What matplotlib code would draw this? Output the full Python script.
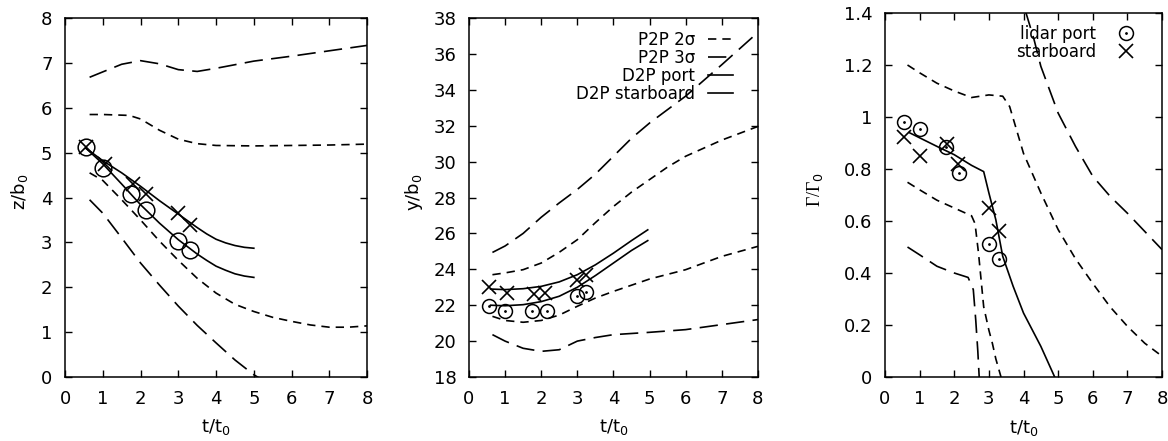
import matplotlib
matplotlib.use("Agg")
import matplotlib.pyplot as plt

plt.rcParams["font.family"] = ["DejaVu Sans"]
plt.rcParams["font.size"] = 13

# ---- panel 1: z/b0 ----
z_t_p3_hi = [0.65, 1.0, 1.5, 2.0, 2.5, 3.0, 3.5, 4.0, 5.0, 6.0, 7.0, 8.0]
z_p3_hi = [6.68, 6.8, 6.97, 7.05, 6.98, 6.85, 6.81, 6.88, 7.04, 7.15, 7.27, 7.39]
z_t_p2_hi = [0.65, 1.0, 1.7, 2.0, 2.5, 3.0, 3.5, 4.0, 5.0, 6.0, 7.0, 8.0]
z_p2_hi = [5.85, 5.85, 5.83, 5.75, 5.5, 5.3, 5.2, 5.16, 5.15, 5.16, 5.17, 5.19]
z_t_p2_lo = [0.65, 1.0, 1.5, 2.0, 2.5, 3.0, 3.5, 4.0, 4.5, 5.0, 5.5, 6.0, 6.5, 7.0, 7.5, 8.0]
z_p2_lo = [4.55, 4.38, 3.95, 3.5, 3.03, 2.6, 2.2, 1.87, 1.62, 1.46, 1.33, 1.24, 1.16, 1.11, 1.11, 1.14]
z_t_p3_lo = [0.65, 1.0, 1.5, 2.0, 2.5, 3.0, 3.5, 4.0, 4.5, 5.0, 5.3]
z_p3_lo = [3.95, 3.65, 3.1, 2.54, 2.05, 1.58, 1.15, 0.76, 0.38, 0.05, -0.1]
z_t_d2p = [0.55, 1.0, 1.5, 2.0, 2.5, 3.0, 3.5, 3.75, 4.0, 4.25, 4.5, 4.75, 5.0]
z_d2p_port = [5.1, 4.75, 4.3, 3.84, 3.43, 3.06, 2.74, 2.6, 2.47, 2.38, 2.3, 2.25, 2.22]
z_d2p_star = [5.1, 4.82, 4.55, 4.25, 3.93, 3.63, 3.33, 3.19, 3.07, 2.99, 2.93, 2.89, 2.87]
z_t_port = [0.55, 1.0, 1.75, 2.15, 3.0, 3.3]
z_port = [5.12, 4.65, 4.07, 3.72, 3.04, 2.82]
z_t_star = [0.55, 1.05, 1.8, 2.15, 3.0, 3.3]
z_star = [5.12, 4.75, 4.3, 4.07, 3.65, 3.38]

# ---- panel 2: y/b0 ----
y_t_p3_hi = [0.65, 1.0, 1.5, 2.0, 2.5, 3.0, 3.5, 4.0, 4.5, 5.0, 5.5, 6.0, 7.0, 8.0]
y_p3_hi = [24.94, 25.3, 26.0, 26.9, 27.7, 28.45, 29.3, 30.3, 31.3, 32.15, 32.9, 33.65, 35.4, 37.2]
y_t_p2_hi = [0.65, 1.0, 1.5, 2.0, 2.5, 3.0, 3.5, 4.0, 4.5, 5.0, 5.5, 6.0, 7.0, 8.0]
y_p2_hi = [23.7, 23.8, 23.98, 24.35, 24.95, 25.65, 26.6, 27.5, 28.3, 29.0, 29.7, 30.3, 31.2, 31.96]
y_t_p2_lo = [0.65, 1.0, 1.5, 2.0, 2.5, 3.0, 3.5, 4.0, 5.0, 6.0, 7.0, 8.0]
y_p2_lo = [21.38, 21.15, 21.05, 21.15, 21.45, 21.94, 22.4, 22.77, 23.46, 23.98, 24.72, 25.28]
y_t_p3_lo = [0.65, 1.0, 1.5, 2.0, 2.5, 3.0, 3.5, 4.0, 5.0, 6.0, 7.0, 8.0]
y_p3_lo = [20.36, 20.0, 19.6, 19.43, 19.52, 20.0, 20.2, 20.36, 20.49, 20.64, 20.92, 21.2]
y_t_d2p = [0.6, 1.0, 1.5, 2.0, 2.5, 3.0, 3.5, 4.0, 4.5, 4.95]
y_d2p_port = [22.0, 21.97, 22.03, 22.2, 22.5, 23.0, 23.65, 24.35, 25.05, 25.6]
y_d2p_star = [22.9, 22.87, 22.92, 23.05, 23.3, 23.7, 24.25, 24.9, 25.6, 26.2]
y_t_port = [0.55, 1.0, 1.75, 2.15, 3.0, 3.25]
y_port = [21.95, 21.65, 21.65, 21.7, 22.5, 22.75]
y_t_star = [0.55, 1.05, 1.8, 2.1, 3.0, 3.25]
y_star = [23.0, 22.7, 22.6, 22.7, 23.4, 23.7]

# ---- panel 3: Gamma/Gamma0 ----
g_t_p3_hi = [4.05, 4.3, 4.5, 5.0, 5.5, 6.0, 6.5, 7.0, 7.5, 8.0]
g_p3_hi = [1.41, 1.3, 1.195, 1.015, 0.887, 0.772, 0.695, 0.63, 0.56, 0.49]
g_t_p2_hi = [0.65, 1.0, 1.5, 2.0, 2.5, 3.0, 3.4, 3.6, 3.8, 4.0, 4.5, 5.0, 5.5, 6.0, 6.5, 7.0, 7.5, 8.0]
g_p2_hi = [1.2, 1.17, 1.13, 1.1, 1.075, 1.085, 1.08, 1.04, 0.95, 0.86, 0.708, 0.567, 0.455, 0.36, 0.27, 0.195, 0.13, 0.08]
g_t_p2_lo = [0.65, 1.0, 1.5, 2.0, 2.5, 2.6, 2.7, 2.85, 3.0, 3.1, 3.2, 3.35]
g_p2_lo = [0.749, 0.72, 0.68, 0.65, 0.62, 0.59, 0.477, 0.27, 0.18, 0.13, 0.07, 0.0]
g_t_p3_lo = [0.65, 1.0, 1.5, 2.0, 2.4, 2.55, 2.62, 2.68, 2.72]
g_p3_lo = [0.5, 0.47, 0.426, 0.4, 0.383, 0.336, 0.22, 0.1, 0.0]
g_t_d2p = [0.7, 1.0, 1.5, 2.0, 2.5, 2.85, 3.0, 3.2, 3.4, 3.7, 4.0, 4.5, 4.9]
g_d2p = [0.94, 0.92, 0.887, 0.855, 0.814, 0.79, 0.708, 0.605, 0.464, 0.349, 0.246, 0.118, 0.0]
g_t_port = [0.55, 1.0, 1.75, 2.15, 3.0, 3.3]
g_port = [0.98, 0.955, 0.885, 0.785, 0.51, 0.455]
g_t_star = [0.55, 1.0, 1.8, 2.1, 3.0, 3.3]
g_star = [0.925, 0.85, 0.895, 0.82, 0.65, 0.56]

short_dash = (0, (5, 3.6))
long_dash = (0, (11, 5))
lw = 1.2

fig = plt.figure(figsize=(11.68, 4.41), dpi=100)
ax1 = fig.add_axes([0.0557, 0.1451, 0.2586, 0.814])
ax2 = fig.add_axes([0.4015, 0.1451, 0.2474, 0.814])
ax3 = fig.add_axes([0.7577, 0.1451, 0.2372, 0.8254])


def style(ax, ylab, ylab_x, yfamily=None):
    ax.set_xlim(0, 8)
    ax.set_xticks(range(0, 9))
    ax.tick_params(direction="in", top=True, right=True, length=5, width=1, labelsize=13)
    ax.tick_params(axis="x", pad=9)
    ax.tick_params(axis="y", pad=9)
    for s in ax.spines.values():
        s.set_linewidth(1.1)
    ax.set_xlabel("t/t$_0$", fontsize=13)
    ax.xaxis.set_label_coords(0.5, -0.112)
    if yfamily:
        ax.set_ylabel(ylab, fontsize=13, family=yfamily)
    else:
        ax.set_ylabel(ylab, fontsize=13)
    ax.yaxis.set_label_coords(ylab_x, 0.515)


def dotted_circles(ax, t, v, ms):
    h1, = ax.plot(t, v, "o", mfc="none", mec="black", ms=ms, mew=1.1, linestyle="none")
    h2, = ax.plot(t, v, ".", color="black", ms=2, linestyle="none")
    return (h1, h2)


# panel 1
ax1.plot(z_t_p3_hi, z_p3_hi, color="black", lw=lw, ls=long_dash)
ax1.plot(z_t_p3_lo, z_p3_lo, color="black", lw=lw, ls=long_dash)
ax1.plot(z_t_p2_hi, z_p2_hi, color="black", lw=lw, ls=short_dash)
ax1.plot(z_t_p2_lo, z_p2_lo, color="black", lw=lw, ls=short_dash)
ax1.plot(z_t_d2p, z_d2p_port, color="black", lw=lw)
ax1.plot(z_t_d2p, z_d2p_star, color="black", lw=lw)
ax1.plot(z_t_port, z_port, "o", mfc="none", mec="black", ms=12, mew=1.1, linestyle="none")
ax1.plot(z_t_star, z_star, "x", color="black", ms=10, mew=1.2, linestyle="none")
ax1.set_ylim(0, 8)
ax1.set_yticks(range(0, 9))
style(ax1, "z/b$_0$", -0.116)

# panel 2
h_p2, = ax2.plot(y_t_p2_hi, y_p2_hi, color="black", lw=lw, ls=short_dash)
ax2.plot(y_t_p2_lo, y_p2_lo, color="black", lw=lw, ls=short_dash)
h_p3, = ax2.plot(y_t_p3_hi, y_p3_hi, color="black", lw=lw, ls=long_dash)
ax2.plot(y_t_p3_lo, y_p3_lo, color="black", lw=lw, ls=long_dash)
h_port, = ax2.plot(y_t_d2p, y_d2p_port, color="black", lw=lw)
h_star, = ax2.plot(y_t_d2p, y_d2p_star, color="black", lw=lw)
dotted_circles(ax2, y_t_port, y_port, 10)
ax2.plot(y_t_star, y_star, "x", color="black", ms=10, mew=1.2, linestyle="none")
ax2.set_ylim(18, 38)
ax2.set_yticks(range(18, 39, 2))
style(ax2, "y/b$_0$", -0.152)
ax2.legend([h_p2, h_p3, h_port, h_star], ["P2P 2σ", "P2P 3σ", "D2P port", "D2P starboard"],
           loc="upper right", bbox_to_anchor=(0.913, 0.964), frameon=False, markerfirst=False,
           fontsize=12, handlelength=1.5, handletextpad=0.78, labelspacing=0.0,
           borderaxespad=0, borderpad=0)

# panel 3
ax3.plot(g_t_p3_hi, g_p3_hi, color="black", lw=lw, ls=long_dash)
ax3.plot(g_t_p3_lo, g_p3_lo, color="black", lw=lw, ls=long_dash)
ax3.plot(g_t_p2_hi, g_p2_hi, color="black", lw=lw, ls=short_dash)
ax3.plot(g_t_p2_lo, g_p2_lo, color="black", lw=lw, ls=short_dash)
ax3.plot(g_t_d2p, g_d2p, color="black", lw=lw)
hc = dotted_circles(ax3, g_t_port, g_port, 10)
hx, = ax3.plot(g_t_star, g_star, "x", color="black", ms=10, mew=1.2, linestyle="none")
ax3.set_ylim(0, 1.4)
ax3.set_yticks([0, 0.2, 0.4, 0.6, 0.8, 1, 1.2, 1.4])
ax3.set_yticklabels(["0", "0.2", "0.4", "0.6", "0.8", "1", "1.2", "1.4"])
style(ax3, "Γ/Γ$_0$", -0.217, yfamily="Liberation Serif")
ax3.legend([hc, hx], ["lidar port", "starboard"], loc="upper right", bbox_to_anchor=(0.899, 0.967),
           frameon=False, markerfirst=False, fontsize=12, handlelength=1.0, handletextpad=1.3,
           labelspacing=0.0, borderaxespad=0, borderpad=0)

fig.savefig("out.png", dpi=100)
